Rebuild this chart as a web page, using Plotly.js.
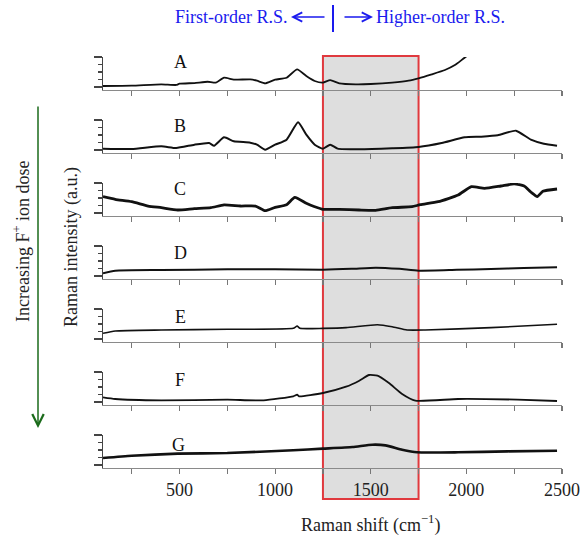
<!DOCTYPE html>
<html>
<head>
<meta charset="utf-8">
<script src="https://cdn.plot.ly/plotly-3.0.1.min.js"></script>
<style>html,body{margin:0;padding:0;background:#fff;}#chart{width:587px;height:541px;}</style>
</head>
<body>
<div id="chart"></div>
<script>
// Panel labels (top to bottom)
const panelLabels = ['A','B','C','D','E','F','G'];

// Spectra (Raman shift in cm^-1, intensity in a.u. per panel)
const xA = [100,250,405,483,500,578,647,690,733,784,870,905,948,1000,1060,1115,1163,1207,1250,1288,1336,1422,1500,1612,1698,1750,1819,1888,1940,1991,2030];
const yA = [0.13,0.18,0.36,0.27,0.44,0.53,0.7,0.58,1.24,0.98,1.02,0.84,0.49,0.98,1.24,2.36,1.47,0.8,0.58,0.93,0.49,0.36,0.4,0.58,0.84,1.16,1.69,2.27,2.93,3.91,4.6];

const xB = [100,250,405,483,578,655,681,733,784,870,905,948,1000,1060,1120,1163,1207,1250,1288,1327,1439,1612,1750,1871,1991,2078,2164,2259,2337,2405,2474];
const yB = [0.18,0.13,0.49,0.27,0.71,0.93,0.58,1.69,1.16,0.98,0.71,0.04,0.71,1.38,3.69,2.04,0.71,0.18,0.71,0.18,0.09,0.22,0.4,0.93,1.69,1.78,1.96,2.58,1.38,0.84,0.58];

const xC = [100,164,250,336,405,491,578,664,733,819,897,948,1000,1060,1103,1163,1207,1250,1336,1439,1526,1612,1716,1759,1853,1957,2026,2095,2181,2250,2302,2337,2371,2400,2474];
const yC = [2.18,1.82,1.51,0.93,0.71,0.4,0.58,0.71,1.07,0.93,0.93,0.31,0.76,1.11,2.09,1.29,0.84,0.49,0.49,0.4,0.36,0.71,0.84,1.11,1.51,2.4,3.51,3.29,3.6,3.87,3.6,2.8,2.2,2.9,3.2];

const xD = [100,164,405,750,1000,1250,1400,1526,1650,1750,1950,2129,2300,2474];
const yD = [0.36,0.71,0.8,0.89,0.9,0.84,0.95,1.11,0.95,0.71,0.82,0.93,1.05,1.16];

const xE = [100,164,405,750,1095,1115,1130,1250,1371,1535,1612,1690,1784,2129,2474];
const yE = [0.76,1.07,1.2,1.29,1.42,1.73,1.42,1.42,1.51,1.91,1.64,1.2,1.2,1.51,1.96];

const xF = [100,164,405,750,940,1095,1115,1125,1250,1371,1440,1491,1535,1595,1664,1733,1957,2267,2474];
const yF = [0.62,0.4,0.22,0.31,0.22,0.76,0.98,0.76,1.2,2.04,2.84,3.6,3.51,2.53,1.07,0.18,0.4,0.31,0.13];

const xG = [100,250,491,750,1095,1250,1405,1508,1577,1664,1742,1957,2216,2474];
const yG = [0.93,1.24,1.51,1.6,1.96,2.18,2.4,2.71,2.62,2.04,1.69,1.69,1.82,1.91];

// X ticks
const xTickVals = [250,500,750,1000,1250,1500,1750,2000,2250,2500];
const xTickText = ['','500','','1000','','1500','','2000','','2500'];

// First-order region
const regionStart = 1250;
const regionEnd = 1750;

const W = 587, H = 541;
const px = v => v / W;
const py = v => 1 - v / H;

const xs = [xA,xB,xC,xD,xE,xF,xG];
const ys = [yA,yB,yC,yD,yE,yF,yG];
const widths = [1.8,2.0,2.8,2.0,1.6,1.8,2.6];
const baselines = [90,153,216,279,342,405,468];
const labelPos = [[180,62],[180,126],[180,189],[180,253],[180,317],[180,380],[178,445]];
const font = 'Liberation Serif, Times New Roman, serif';

const traces = [];
const layout = {
  width: W, height: H,
  margin: {l:0,r:0,t:0,b:0,pad:0},
  paper_bgcolor: '#fff',
  plot_bgcolor: 'rgba(0,0,0,0)',
  showlegend: false,
  font: {family: font, size: 18, color: '#222'},
  shapes: [],
  annotations: []
};

for (let i = 0; i < 7; i++) {
  const n = i === 0 ? '' : String(i+1);
  traces.push({
    x: xs[i], y: ys[i], type: 'scatter', mode: 'lines',
    xaxis: 'x'+n, yaxis: 'y'+n,
    line: {color: '#111', width: widths[i], shape: 'spline', smoothing: 0.5},
    hoverinfo: 'skip'
  });
  const b = baselines[i];
  const last = i === 6;
  layout['xaxis'+n] = {
    domain: [px(103), px(562)],
    range: [100, 2500],
    anchor: 'y'+n,
    showline: true, linecolor: '#8a8a8a', linewidth: 1.3,
    ticks: 'outside', ticklen: 5, tickcolor: '#777', tickwidth: 1.2,
    tickmode: 'array', tickvals: xTickVals, ticktext: xTickText,
    showticklabels: last,
    tickfont: {family: font, size: 18, color: '#222'},
    showgrid: false, zeroline: false, fixedrange: true
  };
  layout['yaxis'+n] = {
    domain: [py(b), py(b-33)],
    range: [-0.4, 4],
    anchor: 'x'+n,
    showline: true, linecolor: '#444', linewidth: 1.3,
    ticks: 'outside', ticklen: 8, tickcolor: '#444', tickwidth: 1.3,
    tick0: 0, dtick: 4,
    minor: {dtick: 1, ticklen: 4, ticks: 'outside', tickcolor: '#444', tickwidth: 1.3},
    showticklabels: false, showgrid: false, zeroline: false, fixedrange: true
  };
  layout.annotations.push({
    xref: 'paper', yref: 'paper', x: px(labelPos[i][0]), y: py(labelPos[i][1]),
    text: panelLabels[i], showarrow: false, xanchor: 'center', yanchor: 'middle',
    font: {family: font, size: 18, color: '#111'}
  });
}

// Shaded first-order region box
layout.shapes.push({
  type: 'rect', xref: 'x', yref: 'paper',
  x0: regionStart, x1: regionEnd, y0: py(499), y1: py(56),
  fillcolor: '#dedede', line: {color: '#e0393e', width: 2}, layer: 'below'
});
// Blue divider
layout.shapes.push({
  type: 'line', xref: 'paper', yref: 'paper',
  x0: px(333), x1: px(333), y0: py(5), y1: py(32),
  line: {color: '#1a1aee', width: 2}
});

const blue = '#1a1aee';
layout.annotations.push(
  {xref:'paper', yref:'paper', x: px(290), y: py(17), xanchor:'right', yanchor:'middle',
   text:'First-order R.S.', showarrow:false, font:{family:font, size:18, color:blue}},
  {xref:'paper', yref:'paper', x: px(374), y: py(17), xanchor:'left', yanchor:'middle',
   text:'Higher-order R.S.', showarrow:false, font:{family:font, size:18, color:blue}},
  {xref:'paper', yref:'paper', x: px(291), y: py(17), ax: 35, ay: 0, text:'',
   showarrow:true, arrowhead:5, arrowsize:1.4, arrowwidth:1.3, arrowcolor:blue},
  {xref:'paper', yref:'paper', x: px(373), y: py(17), ax: -30, ay: 0, text:'',
   showarrow:true, arrowhead:5, arrowsize:1.4, arrowwidth:1.3, arrowcolor:blue},
  {xref:'paper', yref:'paper', x: px(38), y: py(428), ax: 0, ay: -323, text:'',
   showarrow:true, arrowhead:5, arrowsize:1.5, arrowwidth:1.5, arrowcolor:'#1b6b1b'},
  {xref:'paper', yref:'paper', x: px(21), y: py(241), textangle: -90,
   text:'Increasing F<sup>+</sup> ion dose', showarrow:false, xanchor:'center', yanchor:'middle',
   font:{family:font, size:18, color:'#222'}},
  {xref:'paper', yref:'paper', x: px(71), y: py(247), textangle: -90,
   text:'Raman intensity (a.u.)', showarrow:false, xanchor:'center', yanchor:'middle',
   font:{family:font, size:18, color:'#222'}},
  {xref:'paper', yref:'paper', x: px(370), y: py(524),
   text:'Raman shift (cm<sup>−1</sup>)', showarrow:false, xanchor:'center', yanchor:'middle',
   font:{family:font, size:18, color:'#222'}}
);

Plotly.newPlot('chart', traces, layout, {staticPlot: true, displayModeBar: false});
</script>
</body>
</html>
